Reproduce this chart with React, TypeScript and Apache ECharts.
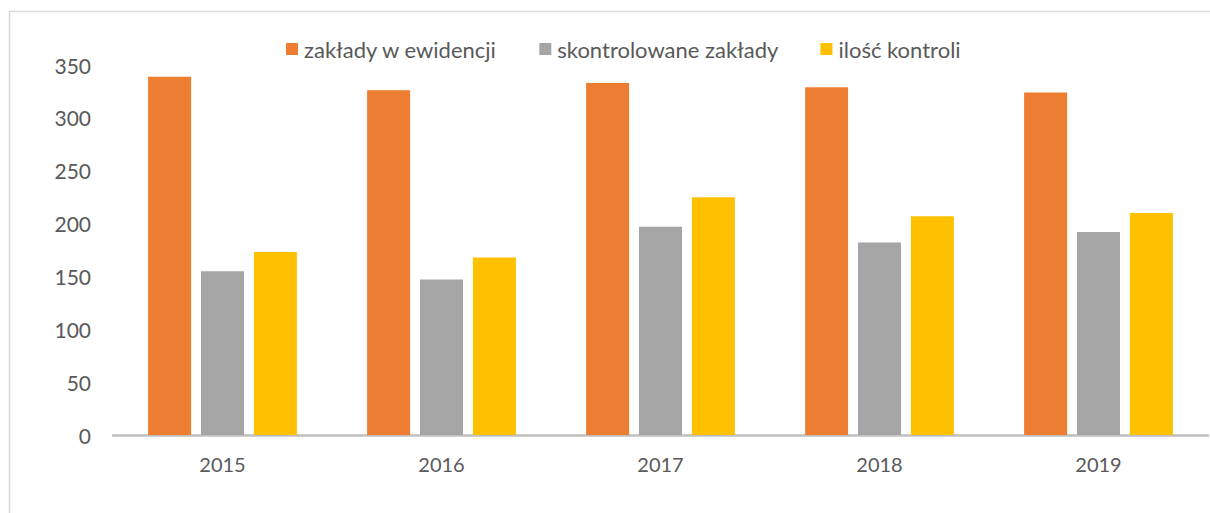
import React, { useEffect, useRef } from "react";
import * as echarts from "echarts";

const years = ["2015", "2016", "2017", "2018", "2019"];
const zakladyWEwidencji = [339, 326, 333, 329, 324];
const skontrolowaneZaklady = [155, 147, 197, 182, 192];
const iloscKontroli = [173, 168, 225, 207, 210];

const FONT = "Lato";
const TEXT = "#595959";

export default function App() {
  const ref = useRef<HTMLDivElement>(null);
  useEffect(() => {
    const chart = echarts.init(ref.current!, null, { renderer: "svg" });
    const bar = (name: string, data: number[], color: string) => ({
      name,
      type: "bar",
      data,
      barWidth: 43,
      barGap: "23%",
      itemStyle: { color },
    });
    chart.setOption({
      animation: false,
      backgroundColor: "#ffffff",
      textStyle: { fontFamily: FONT },
      graphic: [
        {
          type: "rect",
          shape: { x: 9.5, y: 11.5, width: 1230, height: 540 },
          style: { fill: "none", stroke: "#d9d9d9", lineWidth: 1.5 },
          silent: true,
        },
      ],
      legend: {
        top: 33,
        left: 281,
        itemWidth: 12,
        itemHeight: 12,
        itemGap: 42,
        icon: "rect",
        textStyle: { fontFamily: FONT, fontSize: 22, color: TEXT, padding: [0, 0, 0, 1] },
        data: ["zakłady w ewidencji", "skontrolowane zakłady", "ilość kontroli"],
      },
      grid: { left: 113, right: 2, top: 65, bottom: 78, containLabel: false },
      xAxis: {
        type: "category",
        data: years,
        axisLine: { lineStyle: { color: "#bfbfbf", width: 2.5 } },
        axisTick: { show: false },
        axisLabel: { fontFamily: FONT, fontSize: 20, color: TEXT, margin: 19 },
      },
      yAxis: {
        type: "value",
        min: 0,
        max: 350,
        interval: 50,
        splitLine: { show: false },
        axisLine: { show: false },
        axisTick: { show: false },
        axisLabel: { fontFamily: FONT, fontSize: 21, color: TEXT, margin: 22 },
      },
      series: [
        bar("zakłady w ewidencji", zakladyWEwidencji, "#ed7d31"),
        bar("skontrolowane zakłady", skontrolowaneZaklady, "#a5a5a5"),
        bar("ilość kontroli", iloscKontroli, "#ffc000"),
      ],
    });
    return () => chart.dispose();
  }, []);
  return (
    <div
      ref={ref}
      style={{ position: "fixed", left: 0, top: 0, width: 1210, height: 513 }}
    />
  );
}
